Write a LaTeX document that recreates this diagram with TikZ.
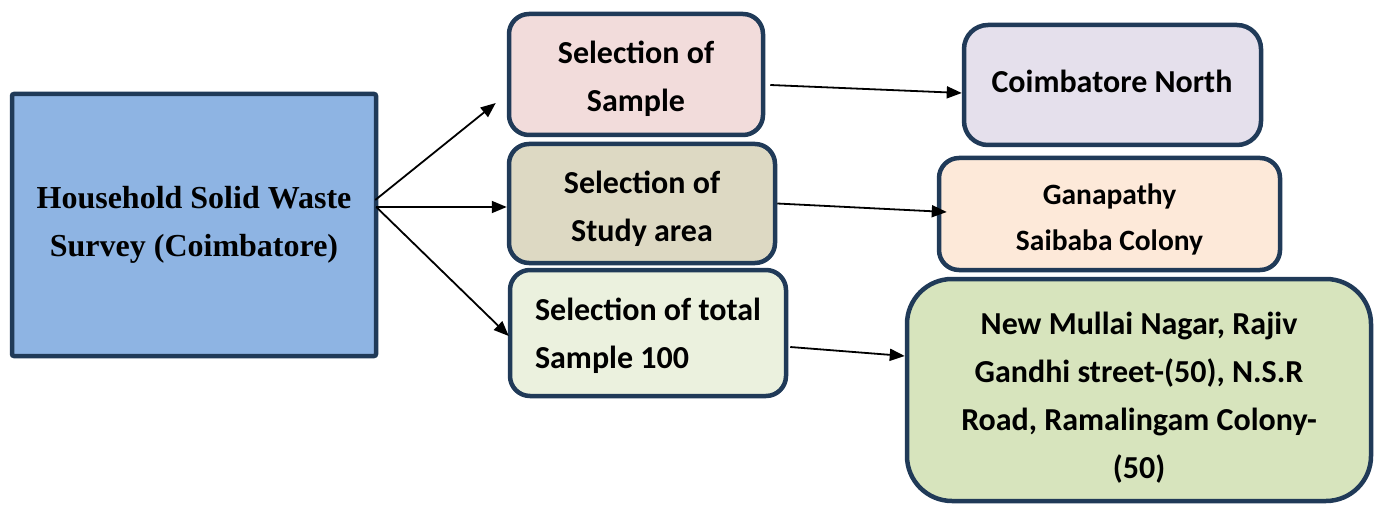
\documentclass[tikz,border=0pt]{standalone}
\usepackage{fontspec}
\setmainfont{Carlito}
\newfontfamily\timesf{Liberation Serif}
\usetikzlibrary{arrows.meta}
\definecolor{navy}{HTML}{203A58}
\definecolor{lblue}{HTML}{8EB4E3}
\definecolor{pinkf}{HTML}{F2DCDB}
\definecolor{tanf}{HTML}{DDD9C3}
\definecolor{palegreen}{HTML}{EBF1DE}
\definecolor{lavf}{HTML}{E5E0EC}
\definecolor{peachf}{HTML}{FDE9D9}
\definecolor{greenf}{HTML}{D7E4BD}
\tikzset{
  box/.style={draw=navy, line width=4.5pt, rounded corners=20pt, inner sep=0pt},
  txt/.style={inner sep=0pt, align=center, font=\bfseries\fontsize{32}{48}\selectfont},
  conn/.style={line width=1.8pt, -{Triangle[length=15pt,width=12pt]}}
}
\begin{document}
\begin{tikzpicture}[x=1pt,y=-1pt]
\useasboundingbox (0,0) rectangle (1380,505);
% boxes
\node[box, rounded corners=2pt, fill=lblue, minimum width=364pt, minimum height=262pt] (L) at (194,225) {};
\node[box, fill=pinkf, minimum width=254pt, minimum height=121pt] (S1) at (636,74.5) {};
\node[box, fill=tanf, minimum width=266pt, minimum height=119pt] (S2) at (642,203.5) {};
\node[box, fill=palegreen, minimum width=276pt, minimum height=126pt] (S3) at (648,333) {};
\node[box, rounded corners=24pt, fill=lavf, minimum width=297pt, minimum height=120pt] (C) at (1112.5,85) {};
\node[box, fill=peachf, minimum width=341pt, minimum height=112pt] (G) at (1109.5,214) {};
\node[box, rounded corners=45pt, fill=greenf, minimum width=464pt, minimum height=222pt] (N) at (1139,390) {};
% texts
\node[txt, font=\timesf\bfseries\fontsize{32}{48}\selectfont] (Lt) at (194,225)
  {Household Solid Waste\\Survey (Coimbatore)};
\node[txt] (S1t) at (636,78.5) {Selection of\\Sample};
\node[txt] (S2t) at (642,208.5) {Selection of\\Study area};
\node[txt, align=left] (S3t) at (648,335.5) {Selection of total\\Sample 100};
\node[txt] (Ct) at (1112,81) {Coimbatore North};
\node[txt, font=\bfseries\fontsize{29.5}{46}\selectfont] (Gt) at (1109.5,219.5) {Ganapathy\\Saibaba Colony};
\node[txt] (Nt) at (1139,397.5)
  {New Mullai Nagar, Rajiv\\Gandhi street-(50), N.S.R\\Road, Ramalingam Colony-\\(50)};
% connector end points
\coordinate (Lu) at ([xshift=-3pt,yshift=25pt]L.east);
\coordinate (Lm) at ([xshift=-2pt,yshift=18pt]L.east);
\coordinate (S1in) at ([xshift=-11pt,yshift=-28.5pt]S1.west);
\coordinate (S2in) at ([yshift=-3.5pt]S2.west);
\coordinate (S3in) at ([xshift=1pt,yshift=-3pt]S3.west);
\coordinate (S1out) at ([xshift=5pt,yshift=-10.5pt]S1.east);
\coordinate (Cin) at ([yshift=-8pt]C.west);
\coordinate (Gin) at ([xshift=10pt,yshift=2pt]G.west);
\coordinate (S3out) at ([xshift=2pt,yshift=-14pt]S3.east);
\coordinate (Nin) at ([yshift=34pt]N.west);
\draw[conn] (Lu) -- (S1in);
\draw[conn] (Lm) -- (S2in);
\draw[conn] (Lm) -- (S3in);
\draw[conn] (S1out) -- (Cin);
\draw[conn] (S2.east) -- (Gin);
\draw[conn] (S3out) -- (Nin);
\end{tikzpicture}
\end{document}
